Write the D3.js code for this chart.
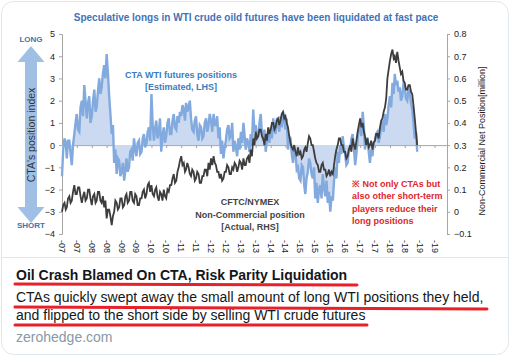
<!DOCTYPE html>
<html>
<head>
<meta charset="utf-8">
<script src="https://cdn.jsdelivr.net/npm/d3@7"></script>
<style>
  body { margin: 0; background: #fff; }
  text { font-family: "Liberation Sans", Arial, sans-serif; }
</style>
</head>
<body>
<div id="chart"></div>
<script>
// twice a month (1st, 16th), Jan 2007 .. Dec 2018
var ctaIndex = [
  -1.4,-0.2, 0.3,0.1, -0.6,0.2, 0.2,-0.4, -0.9,0.0, 0.5,1.0, 1.4,0.7, 0.6,1.7, 2.0,1.3, 2.7,2.0, 1.2,1.9, 2.2,1.0,
  1.3,2.0, 2.5,1.5, 1.7,2.4, 3.0,2.3, 2.6,3.2, 3.6,3.0, 4.1,3.3, 2.2,1.4, 0.5,0.9, -0.8,-0.2, -1.3,-0.6, -0.7,-1.4,
  -1.2,-0.8, -1.6,-1.1, -0.6,-1.2, -1.0,-0.3, -0.2,-0.7, 0.3,-0.2, -0.5,0.1, 0.2,-0.4, -0.3,0.3, 0.5,-0.1, 0.1,0.6, 0.8,0.2,
  2.3,0.9, 0.2,0.8, 1.1,0.3, 0.6,1.2, -0.3,0.4, 0.8,0.1, 0.4,1.0, 1.2,0.5, 0.5,1.1, 1.4,0.8, 0.7,1.3, 1.0,1.5,
  1.3,1.8, 1.6,1.1, 1.9,1.5, 1.7,2.0, 1.2,0.7, 0.6,1.1, 1.3,0.5, 0.2,0.9, 0.8,0.3, 0.4,1.0, 1.2,0.6, 0.9,1.4,
  1.1,0.6, 1.4,0.9, 0.9,1.3, 0.3,0.8, -0.4,0.2, -0.6,-0.1, 0.2,0.7, 0.9,0.3, 0.4,1.0, -0.3,0.2, -0.1,-0.5, 0.3,-0.2,
  0.6,0.1, 1.0,0.4, -0.2,0.3, 0.1,-0.3, 0.5,0.0, 1.6,0.6, 0.9,0.3, 0.4,1.0, 1.4,0.5, 0.2,0.7, -0.3,0.2, 0.6,0.1,
  0.8,0.3, 1.2,0.7, 0.5,1.1, 1.0,0.6, 1.3,0.8, 1.5,1.1, 0.7,1.2, -0.2,0.4, 0.3,-0.4, -0.8,-0.2, -0.4,-1.1, -1.0,-1.5,
  -1.6,-0.9, -1.0,-1.8, -2.2,-1.5, -1.2,-0.6, -0.8,-1.3, -1.5,-1.0, -2.4,-1.7, -2.6,-2.0, -1.8,-2.4, -1.3,-1.9, -2.3,-1.6, -2.6,-2.1,
  -3.0,-2.3, -2.5,-1.6, -1.0,-1.5, -0.3,-0.8, 0.0,-0.4, 0.4,-0.1, -0.4,-0.9, -0.8,-0.2, -0.2,0.3, 0.5,-0.1, -0.9,-0.4, 0.3,0.7,
  0.9,0.4, 1.5,0.8, -0.2,0.3, 0.3,-0.3, -0.8,-0.2, -0.5,0.1, 0.2,0.5, 0.6,0.1, 0.4,0.9, 1.0,0.6, 1.4,0.9, 1.2,1.8,
  2.2,1.7, 2.8,2.3, 3.2,2.7, 2.9,2.4, 2.6,2.0, 2.2,2.8, 2.7,2.1, 2.0,2.5, 2.4,1.9, 1.6,1.0, 0.3,0.6, -0.3
];
var nonCommercial = [
  0.00,0.03, 0.04,0.01, 0.02,0.06, 0.07,0.04, 0.05,0.09, 0.12,0.08, 0.08,0.11, 0.11,0.07, 0.04,0.07, 0.09,0.05, 0.06,0.10, 0.10,0.06,
  0.03,0.07, 0.08,0.04, 0.05,0.09, 0.09,0.05, 0.04,0.07, 0.02,0.05, -0.03,0.01, 0.01,-0.02, -0.06,-0.02, 0.00,0.05, 0.04,0.01, 0.02,0.06,
  0.06,0.02, 0.03,0.07, 0.08,0.04, 0.05,0.09, 0.09,0.05, 0.04,0.08, 0.07,0.03, 0.03,0.06, 0.06,0.09, 0.10,0.06, 0.08,0.12, 0.13,0.09,
  0.12,0.08, 0.07,0.10, 0.11,0.07, 0.05,0.09, 0.08,0.05, 0.10,0.07, 0.06,0.10, 0.09,0.12, 0.12,0.15, 0.17,0.13, 0.14,0.18, 0.20,0.23,
  0.25,0.21, 0.22,0.18, 0.19,0.22, 0.20,0.17, 0.16,0.19, 0.18,0.14, 0.15,0.18, 0.17,0.13, 0.13,0.16, 0.16,0.19, 0.19,0.16, 0.22,0.19,
  0.24,0.21, 0.25,0.22, 0.21,0.18, 0.18,0.15, 0.17,0.14, 0.15,0.18, 0.18,0.21, 0.20,0.17, 0.17,0.20, 0.19,0.22, 0.21,0.18, 0.20,0.23,
  0.22,0.19, 0.24,0.21, 0.21,0.24, 0.25,0.22, 0.28,0.25, 0.33,0.30, 0.36,0.33, 0.34,0.37, 0.37,0.34, 0.33,0.30, 0.35,0.32, 0.38,0.35,
  0.37,0.40, 0.40,0.37, 0.38,0.41, 0.42,0.39, 0.41,0.44, 0.45,0.42, 0.43,0.40, 0.38,0.34, 0.31,0.29, 0.28,0.30, 0.27,0.25, 0.29,0.26,
  0.27,0.24, 0.25,0.28, 0.29,0.27, 0.31,0.34, 0.33,0.30, 0.30,0.27, 0.24,0.22, 0.21,0.18, 0.18,0.21, 0.22,0.19, 0.19,0.16, 0.17,0.19,
  0.16,0.18, 0.17,0.21, 0.25,0.28, 0.30,0.33, 0.33,0.30, 0.30,0.27, 0.27,0.24, 0.25,0.28, 0.30,0.27, 0.33,0.30, 0.28,0.32, 0.36,0.39,
  0.42,0.38, 0.40,0.36, 0.34,0.30, 0.33,0.29, 0.30,0.32, 0.28,0.31, 0.32,0.35, 0.35,0.33, 0.38,0.41, 0.42,0.45, 0.47,0.51, 0.60,0.64,
  0.68,0.71, 0.73,0.69, 0.70,0.67, 0.72,0.68, 0.65,0.62, 0.63,0.59, 0.58,0.55, 0.55,0.57, 0.57,0.54, 0.53,0.48, 0.42,0.36, 0.30
];
var xTickLabels = ["-07","-07","-08","-08","-09","-09","-10","-10","-11","-11","-12","-12","-13",
                   "-13","-14","-14","-15","-15","-16","-16","-17","-17","-18","-18","-19","-19"];
var leftTicks = [5, 4, 3, 2, 1, 0, -1, -2, -3, -4];
var rightTicks = [0.8, 0.7, 0.6, 0.5, 0.4, 0.3, 0.2, 0.1, 0, -0.1];

var W = 510, H = 360;
var svg = d3.select("#chart").append("svg")
  .attr("width", W)
  .attr("height", H);

// card
svg.append("rect")
  .attr("x", 1.5).attr("y", 1.5)
  .attr("width", W - 3).attr("height", 353)
  .attr("rx", 12)
  .attr("fill", "#fff")
  .attr("stroke", "#e1e8ed");

var start = new Date(2007, 0, 1);
var dates = ctaIndex.map(function(d, i) { return new Date(2007, Math.floor(i / 2), i % 2 ? 16 : 1); });
var tickDates = xTickLabels.map(function(d, i) { return d3.timeMonth.offset(start, i * 6); });

var x = d3.scaleTime().domain([start, new Date(2019, 11, 1)]).range([62, 447]);
var yL = d3.scaleLinear().domain([-4, 5]).range([234, 34]);
var yR = d3.scaleLinear().domain([-0.1, 0.8]).range([234, 34]);

// title
svg.append("text")
  .attr("x", 256).attr("y", 21)
  .attr("text-anchor", "middle")
  .style("font-size", "10px").style("font-weight", 700)
  .attr("fill", "#4272b8")
  .text("Speculative longs in WTI crude oild futures have been liquidated at fast pace");

// left axis
var gl = svg.append("g").attr("transform", "translate(62,0)")
  .call(d3.axisLeft(yL).tickValues(leftTicks).tickSize(3).tickPadding(4));
gl.select(".domain").attr("stroke", "#a6a6a6");
gl.selectAll(".tick line").attr("stroke", "#a6a6a6");
gl.selectAll("text").style("font-size", "9px").attr("fill", "#222");

// right axis
var gr = svg.append("g").attr("transform", "translate(447,0)")
  .call(d3.axisRight(yR).tickValues(rightTicks).tickSize(3).tickPadding(4)
    .tickFormat(function(d) { return d3.format("")(Math.round(d * 10) / 10); }));
gr.select(".domain").attr("stroke", "#a6a6a6");
gr.selectAll(".tick line").attr("stroke", "#a6a6a6");
gr.selectAll("text").style("font-size", "9px").attr("fill", "#222");

// zero line with ticks
var gx = svg.append("g").attr("transform", "translate(0," + yL(0) + ")")
  .call(d3.axisBottom(x).tickValues(tickDates).tickSize(3).tickFormat(""));
gx.select(".domain").attr("stroke", "#a6a6a6");
gx.selectAll(".tick line").attr("stroke", "#a6a6a6");

// tick labels at the bottom
svg.append("g").selectAll("text")
  .data(tickDates)
  .join("text")
  .attr("transform", function(d) { return "translate(" + (x(d) - 3) + ",240) rotate(90)"; })
  .style("font-size", "9px")
  .attr("fill", "#222")
  .text(function(d, i) { return xTickLabels[i]; });

// CTA series
var area = d3.area()
  .x(function(d, i) { return x(dates[i]); })
  .y0(yL(0))
  .y1(function(d) { return yL(d); });
var line = d3.line()
  .x(function(d, i) { return x(dates[i]); })
  .y(function(d) { return yL(d); });

svg.append("path").datum(ctaIndex)
  .attr("d", area)
  .attr("fill", "#cbdaf0");
svg.append("path").datum(ctaIndex)
  .attr("d", line)
  .attr("fill", "none")
  .attr("stroke", "#82aade")
  .attr("stroke-width", 2.4);

// non-commercial series
var line2 = d3.line()
  .x(function(d, i) { return x(dates[i]); })
  .y(function(d) { return yR(d); });
svg.append("path").datum(nonCommercial)
  .attr("d", line2)
  .attr("fill", "none")
  .attr("stroke", "#3d3d3d")
  .attr("stroke-width", 1.8);

// annotations
function lines(arr, cx, y0, dy, anchor, color, weight) {
  arr.forEach(function(t, i) {
    svg.append("text")
      .attr("x", cx).attr("y", y0 + i * dy)
      .attr("text-anchor", anchor)
      .style("font-size", "9px").style("font-weight", weight)
      .attr("fill", color)
      .text(t);
  });
}
lines(["CTA WTI futures positions", "[Estimated, LHS]"], 181, 78, 12, "middle", "#3a7cc0", 700);
lines(["CFTC/NYMEX", "Non-Commercial position", "[Actual, RHS]"], 250, 205, 12.5, "middle", "#444", 700);
lines(["\u203B Not only CTAs but", "also other short-term", "players reduce their", "long positions"], 352, 187, 12.3, "start", "#e0262a", 700);

// arrow
var ax = 31;
svg.append("path")
  .attr("d", "M" + ax + ",46 L" + (ax + 13.5) + ",62 L" + (ax + 6) + ",62 L" + (ax + 6) + ",207 L" + (ax + 13.5) + ",207 L" + ax + ",223 L" + (ax - 13.5) + ",207 L" + (ax - 6) + ",207 L" + (ax - 6) + ",62 L" + (ax - 13.5) + ",62 Z")
  .attr("fill", "#9fbfe4");
svg.append("text")
  .attr("transform", "translate(" + (ax + 4) + ",135) rotate(-90)")
  .attr("text-anchor", "middle")
  .style("font-size", "10.5px")
  .attr("fill", "#333")
  .text("CTA's position index");
svg.append("text").attr("x", ax).attr("y", 42).attr("text-anchor", "middle")
  .style("font-size", "8px").style("font-weight", 700).attr("fill", "#3d73b0").text("LONG");
svg.append("text").attr("x", ax).attr("y", 228).attr("text-anchor", "middle")
  .style("font-size", "8px").style("font-weight", 700).attr("fill", "#3d73b0").text("SHORT");

svg.append("text")
  .attr("transform", "translate(485,141) rotate(-90)")
  .attr("text-anchor", "middle")
  .style("font-size", "9px")
  .attr("fill", "#222")
  .text("Non-Commercial Net Position[million]");

// card footer
svg.append("line")
  .attr("x1", 2).attr("x2", W - 2).attr("y1", 257.5).attr("y2", 257.5)
  .attr("stroke", "#e1e8ed");

svg.append("text").attr("x", 16).attr("y", 280)
  .style("font-size", "14px").style("font-weight", 700).attr("fill", "#14171a")
  .text("Oil Crash Blamed On CTA, Risk Parity Liquidation");
svg.append("text").attr("x", 16).attr("y", 302)
  .style("font-size", "14px").attr("fill", "#14171a")
  .text("CTAs quickly swept away the small amount of long WTI positions they held,");
svg.append("text").attr("x", 16).attr("y", 320)
  .style("font-size", "14px").attr("fill", "#14171a")
  .text("and flipped to the short side by selling WTI crude futures");
svg.append("text").attr("x", 16).attr("y", 342)
  .style("font-size", "14px").attr("fill", "#8899a6")
  .text("zerohedge.com");

// red hand-drawn underlines
var marks = [[15, 284, 357, 285], [15, 307, 487, 309], [15, 325, 367, 325]];
marks.forEach(function(m) {
  svg.append("line")
    .attr("x1", m[0]).attr("y1", m[1]).attr("x2", m[2]).attr("y2", m[3])
    .attr("stroke", "#e8202a").attr("stroke-width", 3).attr("stroke-linecap", "round");
});
</script>
</body>
</html>
